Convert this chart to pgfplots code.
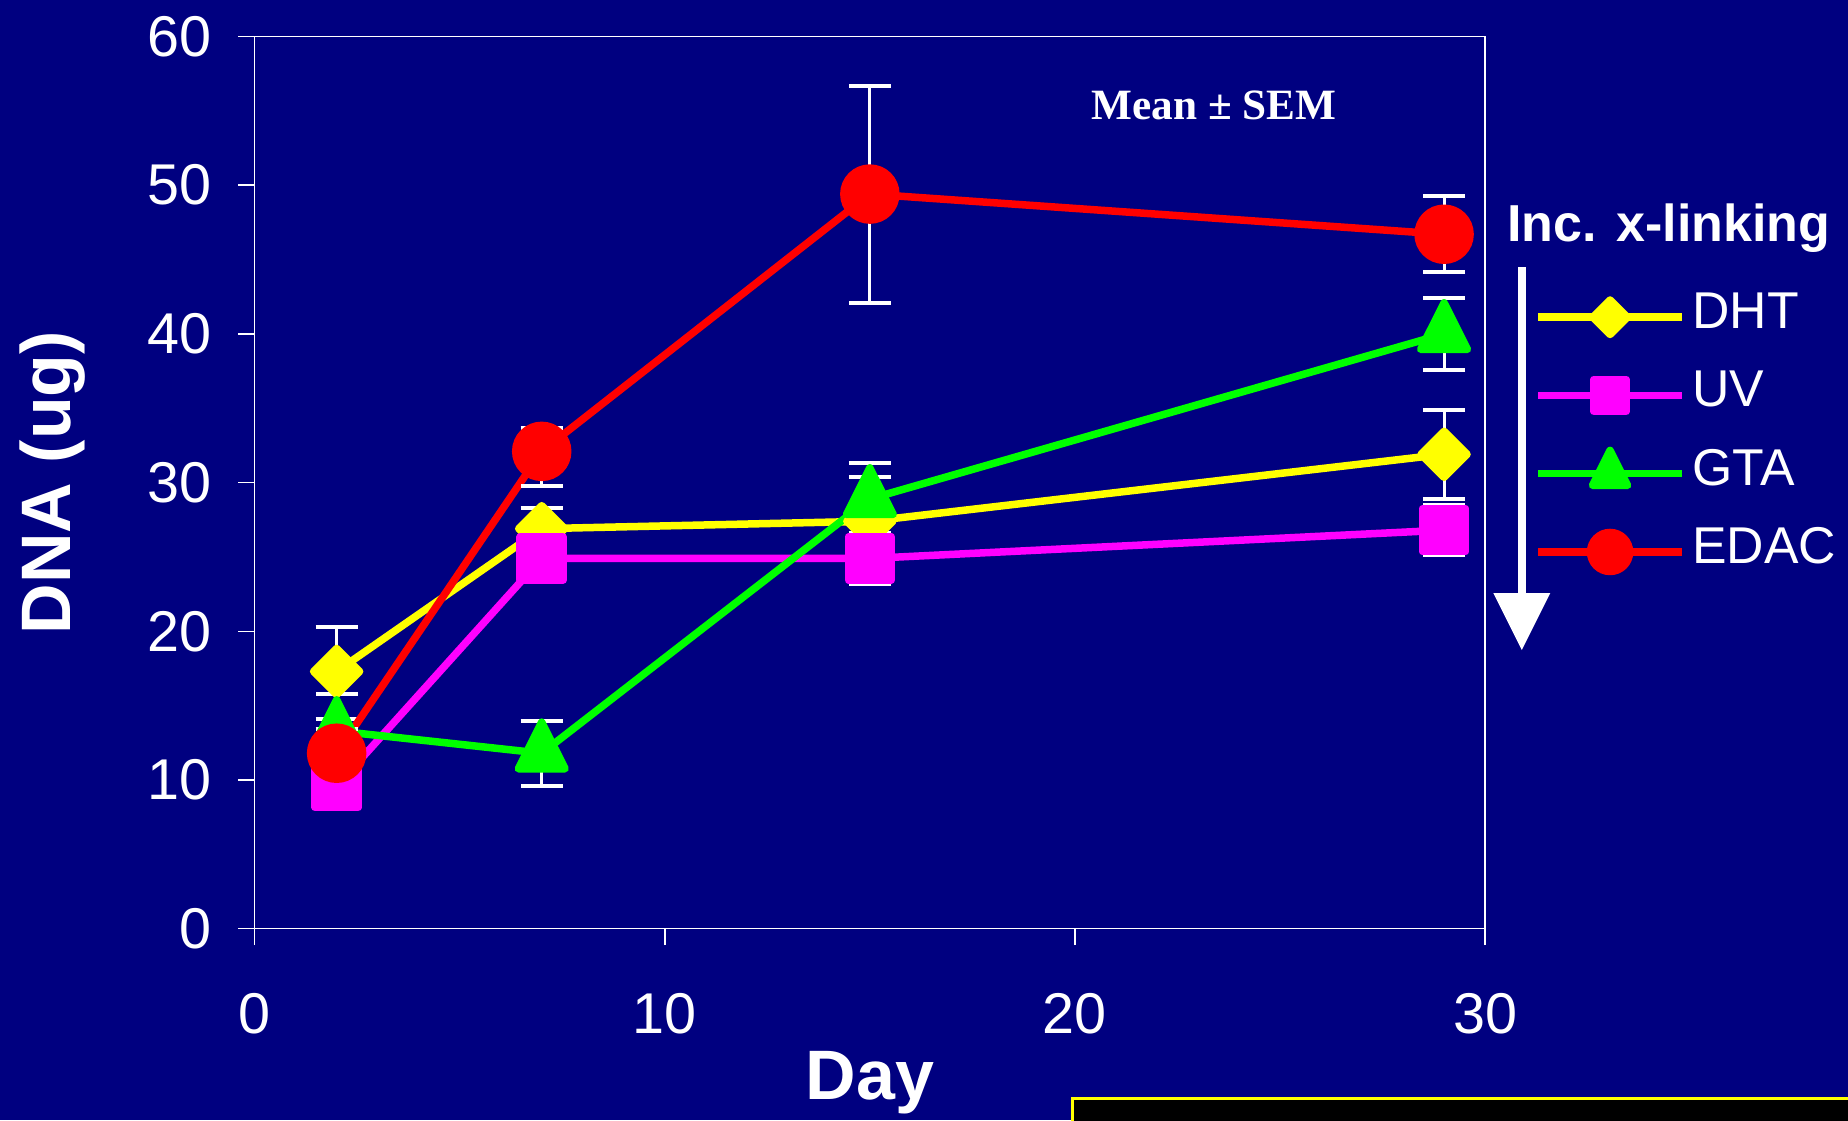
\documentclass[border=0pt]{standalone}
\usepackage{fontspec}
\setmainfont{Liberation Sans}
\newfontfamily\serifb{Liberation Serif}
\usepackage{pgfplots}
\pgfplotsset{compat=1.18}
\definecolor{bgnavy}{RGB}{0,0,128}
\definecolor{cyel}{RGB}{255,255,0}
\definecolor{cmag}{RGB}{255,0,255}
\definecolor{cgrn}{RGB}{0,255,0}
\definecolor{cred}{RGB}{255,0,0}
\begin{document}
\begin{tikzpicture}
\fill[bgnavy] (0,0) rectangle (739.2pt,448pt);
\path[use as bounding box] (0,0) rectangle (739.2pt,448pt);
\begin{axis}[
  at={(101.84pt,76.52pt)}, anchor=south west,
  scale only axis, width=492.2pt, height=356.9pt,
  xmin=0, xmax=30, ymin=0, ymax=60,
  xtick={0,10,20,30}, ytick={0,10,20,30,40,50,60},
  tick align=outside, tick pos=left,
  major tick length=6.6pt,
  tick style={white, line width=0.6pt},
  axis line style={white, line width=0.6pt},
  /pgf/number format/assume math mode=true,
  ticklabel style={font=\fontsize{23}{27}\selectfont, text=white},
  yticklabel style={anchor=east, inner sep=0pt, xshift=-10.5pt},
  xticklabel style={anchor=north, inner sep=0pt, yshift=-19pt},
  xlabel={\bfseries Day}, ylabel={\bfseries DNA (ug)},
  every axis x label/.style={at={(axis description cs:0.5,0)}, anchor=base, yshift=-68.5pt, font=\fontsize{28}{32}\selectfont, text=white},
  every axis y label/.style={at={(axis description cs:-0.1646,0.5)}, rotate=90, anchor=center, font=\fontsize{28}{32}\selectfont, text=white},
  legend style={at={(1.040,0.7139)}, anchor=north west, draw=none, fill=none, inner sep=0pt, outer sep=0pt,
    row sep=12.5pt, column sep=2.6pt, font=\fontsize{20.7}{24}\selectfont, text=white,
    nodes={inner sep=0pt, text height=14.8pt, text depth=4pt, anchor=base west}},
  legend image code/.code={\draw[#1, every mark/.append style={scale=0.75}, mark repeat=2, mark phase=2] plot coordinates {(0pt,4.6pt) (28.8pt,4.6pt) (57.6pt,4.6pt)};},
  every axis plot/.append style={line width=3pt, line join=round},
  error bars/y dir=both, error bars/y explicit,
  error bars/error bar style={white, line width=1.2pt},
  error bars/error mark options={white, rotate=90, mark size=8.4pt, line width=1.6pt},
]
\addplot[color=cyel, mark=square*, mark size=6.5pt, mark options={rotate=45, solid}] coordinates {
  (2,17.3) += (0,3.0) -= (0,1.5)
  (7,26.9) +- (0,1.4)
  (15,27.4) +- (0,3.0)
  (29,31.9) +- (0,3.0)
};
\addlegendentry{DHT}
\addplot[color=cmag, mark=square*, mark size=8.6pt, mark options={solid}] coordinates {
  (2,9.6) +- (0,1.5)
  (7,24.9) +- (0,1.3)
  (15,24.9) +- (0,1.7)
  (29,26.8) +- (0,1.7)
};
\addlegendentry{UV}
\addplot[color=cgrn, mark=triangle*, mark size=10.8pt, mark options={yscale=1.15, solid}] coordinates {
  (2,13.3) +- (0,0.8)
  (7,11.8) +- (0,2.2)
  (15,28.9) +- (0,2.4)
  (29,40.0) +- (0,2.4)
};
\addlegendentry{GTA}
\addplot[color=cred, mark=*, mark size=10.4pt, mark options={solid}] coordinates {
  (2,11.8) +- (0,1.6)
  (7,32.1) += (0,1.6) -= (0,2.3)
  (15,49.4) +- (0,7.3)
  (29,46.7) +- (0,2.55)
};
\addlegendentry{EDAC}
\end{axis}
\node[anchor=base, inner sep=0pt, text=white] at (485.6pt,400.3pt) {\serifb\bfseries\fontsize{17.3}{20}\selectfont Mean ± SEM};
\node[anchor=base west, inner sep=0pt, text=white] at (602.8pt,351.3pt) {\bfseries\fontsize{20.8}{25}\selectfont Inc. x-linking};
\fill[white] (607.1pt,210.8pt) rectangle (610.3pt,341.2pt);
\fill[white] (597.3pt,210.8pt) -- (620.1pt,210.8pt) -- (608.7pt,188pt) -- cycle;
\fill[black] (428.8pt,-2pt) rectangle (745pt,8.5pt);
\draw[cyel, line width=1.2pt] (428.8pt,-2pt) -- (428.8pt,8.5pt) -- (745pt,8.5pt);
\end{tikzpicture}
\end{document}
